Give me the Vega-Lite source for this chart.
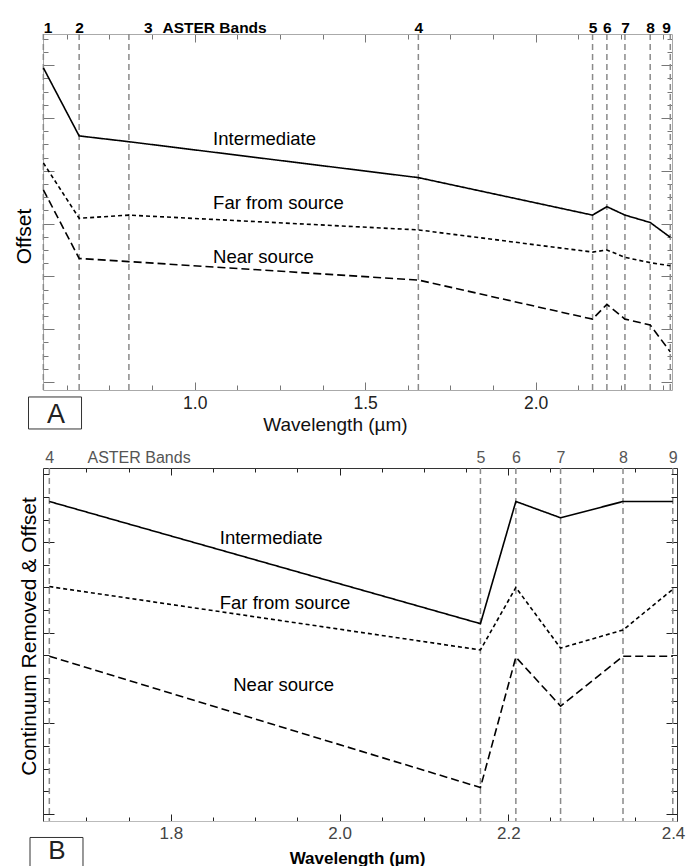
{
  "$schema": "https://vega.github.io/schema/vega-lite/v6.json",
  "padding": {"left": 13, "top": 20, "right": 5, "bottom": 0},
  "bounds": "flush",
  "spacing": 78,
  "config": {"font": "Liberation Sans", "view": {"stroke": null}, "axis": {"grid": false}},
  "datasets": {
    "top": [
      {"series": "Intermediate", "wavelength": 0.556, "value": 5.95},
      {"series": "Intermediate", "wavelength": 0.661, "value": 4.66},
      {"series": "Intermediate", "wavelength": 0.807, "value": 4.55},
      {"series": "Intermediate", "wavelength": 1.656, "value": 3.87},
      {"series": "Intermediate", "wavelength": 2.167, "value": 3.16},
      {"series": "Intermediate", "wavelength": 2.209, "value": 3.32},
      {"series": "Intermediate", "wavelength": 2.262, "value": 3.16},
      {"series": "Intermediate", "wavelength": 2.336, "value": 3.02},
      {"series": "Intermediate", "wavelength": 2.395, "value": 2.74},
      {"series": "Far from source", "wavelength": 0.556, "value": 4.15},
      {"series": "Far from source", "wavelength": 0.661, "value": 3.10},
      {"series": "Far from source", "wavelength": 0.807, "value": 3.16},
      {"series": "Far from source", "wavelength": 1.656, "value": 2.88},
      {"series": "Far from source", "wavelength": 2.167, "value": 2.46},
      {"series": "Far from source", "wavelength": 2.209, "value": 2.50},
      {"series": "Far from source", "wavelength": 2.262, "value": 2.36},
      {"series": "Far from source", "wavelength": 2.336, "value": 2.26},
      {"series": "Far from source", "wavelength": 2.395, "value": 2.20},
      {"series": "Near source", "wavelength": 0.556, "value": 3.64},
      {"series": "Near source", "wavelength": 0.661, "value": 2.34},
      {"series": "Near source", "wavelength": 0.807, "value": 2.28},
      {"series": "Near source", "wavelength": 1.656, "value": 1.93},
      {"series": "Near source", "wavelength": 2.167, "value": 1.19},
      {"series": "Near source", "wavelength": 2.209, "value": 1.47},
      {"series": "Near source", "wavelength": 2.262, "value": 1.19},
      {"series": "Near source", "wavelength": 2.336, "value": 1.08},
      {"series": "Near source", "wavelength": 2.395, "value": 0.57}
    ],
    "bottom": [
      {"series": "Intermediate", "wavelength": 1.656, "value": 3.45},
      {"series": "Intermediate", "wavelength": 2.167, "value": 2.10},
      {"series": "Intermediate", "wavelength": 2.209, "value": 3.45},
      {"series": "Intermediate", "wavelength": 2.262, "value": 3.27},
      {"series": "Intermediate", "wavelength": 2.336, "value": 3.45},
      {"series": "Intermediate", "wavelength": 2.395, "value": 3.45},
      {"series": "Far from source", "wavelength": 1.656, "value": 2.51},
      {"series": "Far from source", "wavelength": 2.167, "value": 1.81},
      {"series": "Far from source", "wavelength": 2.209, "value": 2.50},
      {"series": "Far from source", "wavelength": 2.262, "value": 1.83},
      {"series": "Far from source", "wavelength": 2.336, "value": 2.03},
      {"series": "Far from source", "wavelength": 2.395, "value": 2.48},
      {"series": "Near source", "wavelength": 1.656, "value": 1.74},
      {"series": "Near source", "wavelength": 2.167, "value": 0.29},
      {"series": "Near source", "wavelength": 2.209, "value": 1.73},
      {"series": "Near source", "wavelength": 2.262, "value": 1.19},
      {"series": "Near source", "wavelength": 2.336, "value": 1.74},
      {"series": "Near source", "wavelength": 2.395, "value": 1.74}
    ],
    "bands": [
      {"band": 1, "wavelength": 0.556},
      {"band": 2, "wavelength": 0.661},
      {"band": 3, "wavelength": 0.807},
      {"band": 4, "wavelength": 1.656},
      {"band": 5, "wavelength": 2.167},
      {"band": 6, "wavelength": 2.209},
      {"band": 7, "wavelength": 2.262},
      {"band": 8, "wavelength": 2.336},
      {"band": 9, "wavelength": 2.395}
    ],
    "toplabels": [
      {"series": "Intermediate", "wavelength": 1.054, "value": 4.49},
      {"series": "Far from source", "wavelength": 1.054, "value": 3.27},
      {"series": "Near source", "wavelength": 1.054, "value": 2.26}
    ],
    "bottomlabels": [
      {"series": "Intermediate", "wavelength": 1.858, "value": 2.98},
      {"series": "Far from source", "wavelength": 1.858, "value": 2.26},
      {"series": "Near source", "wavelength": 1.874, "value": 1.36}
    ],
    "panels": [{"panel": "A"}, {"panel": "B"}]
  },
  "vconcat": [
    {
      "width": 629,
      "height": 356,
      "resolve": {"axis": {"x": "independent", "y": "independent"}},
      "layer": [
        {
          "data": {"name": "bands"},
          "mark": {"type": "rule", "color": "#8a8a8a", "strokeWidth": 1.5, "strokeDash": [6, 4]},
          "encoding": {
            "x": {"field": "wavelength", "type": "quantitative", "scale": {"domain": [0.555, 2.4], "nice": false, "zero": false}, "axis": null}
          }
        },
        {
          "data": {"name": "top"},
          "mark": {"type": "line", "color": "#000", "strokeWidth": 1.6},
          "encoding": {
            "x": {
              "field": "wavelength", "type": "quantitative",
              "scale": {"domain": [0.555, 2.4], "nice": false, "zero": false},
              "axis": {
                "orient": "bottom",
                "values": [0.625, 0.75, 0.875, 1, 1.125, 1.25, 1.375, 1.5, 1.625, 1.75, 1.875, 2, 2.125, 2.25, 2.375],
                "labelExpr": "abs(datum.value*2 - round(datum.value*2)) < 0.001 ? format(datum.value, '.1f') : ''",
                "tickSize": {"condition": {"test": "abs(datum.value*2 - round(datum.value*2)) < 0.001", "value": -8}, "value": -5},
                "tickColor": "#777", "domainColor": "#aaa",
                "labelFontSize": 17.5, "labelColor": "#222", "labelBaseline": "alphabetic", "labelPadding": 26,
                "labelFlush": false, "labelOverlap": false,
                "title": "Wavelength (µm)", "titleFontSize": 19, "titleFontWeight": "normal", "titleColor": "#111",
                "titleBaseline": "alphabetic", "titleX": 292, "titleY": 40, "titleAlign": "center"
              }
            },
            "y": {
              "field": "value", "type": "quantitative",
              "scale": {"domain": [-0.152, 6.59], "nice": false, "zero": false},
              "axis": {
                "orient": "left",
                "values": [0, 0.25, 0.5, 0.75, 1, 1.25, 1.5, 1.75, 2, 2.25, 2.5, 2.75, 3, 3.25, 3.5, 3.75, 4, 4.25, 4.5, 4.75, 5, 5.25, 5.5, 5.75, 6, 6.25, 6.5],
                "labels": false,
                "tickSize": {"condition": {"test": "abs(datum.value - round(datum.value)) < 0.001", "value": -11}, "value": -5},
                "tickColor": "#777", "domainColor": "#aaa",
                "title": "Offset", "titleFontSize": 21, "titleFontWeight": "normal", "titleColor": "#000",
                "titleBaseline": "alphabetic", "titleX": -12.5, "titleY": 202, "titleAlign": "center", "titleAngle": -90
              }
            },
            "strokeDash": {
              "field": "series", "type": "nominal",
              "scale": {"domain": ["Intermediate", "Far from source", "Near source"], "range": [[1, 0], [4, 3], [8, 4]]},
              "legend": null
            }
          }
        },
        {
          "data": {"name": "toplabels"},
          "mark": {"type": "text", "align": "left", "baseline": "alphabetic", "fontSize": 18.5, "color": "#000"},
          "encoding": {
            "text": {"field": "series"},
            "x": {
              "field": "wavelength", "type": "quantitative",
              "scale": {"domain": [0.555, 2.4], "nice": false, "zero": false},
              "axis": {
                "orient": "top",
                "values": [0.556, 0.625, 0.661, 0.75, 0.807, 0.875, 1, 1.125, 1.25, 1.375, 1.5, 1.625, 1.656, 1.75, 1.875, 2, 2.125, 2.167, 2.209, 2.25, 2.262, 2.336, 2.375, 2.395],
                "labelExpr": "datum.value == 0.556 ? '1' : datum.value == 0.661 ? '2' : datum.value == 0.807 ? '3' : datum.value == 1.656 ? '4' : datum.value == 2.167 ? '5' : datum.value == 2.209 ? '6' : datum.value == 2.262 ? '7' : datum.value == 2.336 ? '8' : datum.value == 2.395 ? '9' : ''",
                "labelAlign": {"condition": [{"test": "datum.value == 0.556", "value": "left"}, {"test": "datum.value == 2.395", "value": "right"}], "value": "center"},
                "labelOffset": {"condition": {"test": "datum.value == 0.807", "value": 19}, "value": 0},
                "tickSize": {"condition": [{"test": "indexof([0.556, 0.661, 0.807, 1.656, 2.167, 2.209, 2.262, 2.336, 2.395], datum.value) >= 0", "value": 0}, {"test": "abs(datum.value*2 - round(datum.value*2)) < 0.001", "value": -8}], "value": -5},
                "tickColor": "#777", "domainColor": "#aaa",
                "labelFontSize": 15.5, "labelFontWeight": "bold", "labelColor": "#000", "labelBaseline": "alphabetic", "labelPadding": 2,
                "labelFlush": false, "labelOverlap": false, "labelBound": false,
                "title": "ASTER Bands", "titleFontSize": 15.5, "titleFontWeight": "bold", "titleColor": "#000",
                "titleBaseline": "alphabetic", "titleAlign": "left", "titleX": 119, "titleY": -2
              }
            },
            "y": {
              "field": "value", "type": "quantitative",
              "scale": {"domain": [-0.152, 6.59], "nice": false, "zero": false},
              "axis": {
                "orient": "right",
                "values": [0, 0.25, 0.5, 0.75, 1, 1.25, 1.5, 1.75, 2, 2.25, 2.5, 2.75, 3, 3.25, 3.5, 3.75, 4, 4.25, 4.5, 4.75, 5, 5.25, 5.5, 5.75, 6, 6.25, 6.5],
                "labels": false, "title": null,
                "tickSize": {"condition": {"test": "abs(datum.value - round(datum.value)) < 0.001", "value": -11}, "value": -5},
                "tickColor": "#777", "domainColor": "#aaa"
              }
            }
          }
        },
        {
          "data": {"name": "panels"},
          "transform": [{"filter": "datum.panel == 'A'"}],
          "mark": {"type": "rect", "fill": "transparent", "stroke": "#333", "strokeWidth": 1},
          "encoding": {
            "x": {"datum": 0.5125, "type": "quantitative", "scale": {"domain": [0.555, 2.4], "nice": false, "zero": false}, "axis": null},
            "x2": {"datum": 0.668},
            "y": {"datum": -0.284, "type": "quantitative", "scale": {"domain": [-0.152, 6.59], "nice": false, "zero": false}, "axis": null},
            "y2": {"datum": -0.89}
          }
        },
        {
          "data": {"name": "panels"},
          "transform": [{"filter": "datum.panel == 'A'"}],
          "mark": {"type": "text", "align": "center", "baseline": "alphabetic", "fontSize": 27, "color": "#222"},
          "encoding": {
            "text": {"field": "panel"},
            "x": {"datum": 0.593, "type": "quantitative", "scale": {"domain": [0.555, 2.4], "nice": false, "zero": false}, "axis": null},
            "y": {"datum": -0.777, "type": "quantitative", "scale": {"domain": [-0.152, 6.59], "nice": false, "zero": false}, "axis": null}
          }
        }
      ]
    },
    {
      "width": 634,
      "height": 353,
      "resolve": {"axis": {"x": "independent", "y": "independent"}},
      "layer": [
        {
          "data": {"name": "bands"},
          "transform": [{"filter": "datum.band >= 4"}],
          "mark": {"type": "rule", "color": "#8a8a8a", "strokeWidth": 1.5, "strokeDash": [6, 4]},
          "encoding": {
            "x": {"field": "wavelength", "type": "quantitative", "scale": {"domain": [1.6485, 2.4], "nice": false, "zero": false}, "axis": null}
          }
        },
        {
          "data": {"name": "bottom"},
          "mark": {"type": "line", "color": "#000", "strokeWidth": 1.6},
          "encoding": {
            "x": {
              "field": "wavelength", "type": "quantitative",
              "scale": {"domain": [1.6485, 2.4], "nice": false, "zero": false},
              "axis": {
                "orient": "bottom",
                "values": [1.7, 1.75, 1.8, 1.85, 1.9, 1.95, 2, 2.05, 2.1, 2.15, 2.2, 2.25, 2.3, 2.35, 2.4],
                "labelExpr": "abs(datum.value*5 - round(datum.value*5)) < 0.001 ? format(datum.value, '.1f') : ''",
                "labelOffset": {"condition": {"test": "datum.value > 2.39", "value": -4}, "value": 0},
                "tickSize": {"condition": {"test": "abs(datum.value*5 - round(datum.value*5)) < 0.001", "value": -7}, "value": -4},
                "tickColor": "#222", "domainColor": "#bbb",
                "labelFontSize": 17, "labelColor": "#444", "labelBaseline": "alphabetic", "labelPadding": 24,
                "labelFlush": false, "labelOverlap": false, "labelBound": false,
                "title": "Wavelength (µm)", "titleFontSize": 17, "titleFontWeight": "bold", "titleColor": "#000",
                "titleBaseline": "alphabetic", "titleX": 314, "titleY": 42, "titleAlign": "center"
              }
            },
            "y": {
              "field": "value", "type": "quantitative",
              "scale": {"domain": [-0.08, 3.82], "nice": false, "zero": false},
              "axis": {
                "orient": "left",
                "values": [0, 0.25, 0.5, 0.75, 1, 1.25, 1.5, 1.75, 2, 2.25, 2.5, 2.75, 3, 3.25, 3.5, 3.75],
                "labels": false,
                "tickSize": {"condition": {"test": "abs(datum.value - round(datum.value)) < 0.001", "value": -11}, "value": -6},
                "tickColor": "#222", "domainColor": "#333",
                "title": "Continuum Removed & Offset", "titleFontSize": 21, "titleFontWeight": "normal", "titleColor": "#000",
                "titleBaseline": "alphabetic", "titleX": -8, "titleY": 168, "titleAlign": "center", "titleAngle": -90
              }
            },
            "strokeDash": {
              "field": "series", "type": "nominal",
              "scale": {"domain": ["Intermediate", "Far from source", "Near source"], "range": [[1, 0], [4, 3], [8, 4]]},
              "legend": null
            }
          }
        },
        {
          "data": {"name": "bottomlabels"},
          "mark": {"type": "text", "align": "left", "baseline": "alphabetic", "fontSize": 18.5, "color": "#000"},
          "encoding": {
            "text": {"field": "series"},
            "x": {
              "field": "wavelength", "type": "quantitative",
              "scale": {"domain": [1.6485, 2.4], "nice": false, "zero": false},
              "axis": {
                "orient": "top",
                "values": [1.656, 1.7, 1.75, 1.8, 1.85, 1.9, 1.95, 2, 2.05, 2.1, 2.15, 2.167, 2.2, 2.209, 2.25, 2.262, 2.3, 2.336, 2.35, 2.395, 2.4],
                "labelExpr": "datum.value == 1.656 ? '4' : datum.value == 2.167 ? '5' : datum.value == 2.209 ? '6' : datum.value == 2.262 ? '7' : datum.value == 2.336 ? '8' : datum.value == 2.395 ? '9' : ''",
                "tickSize": {"condition": [{"test": "indexof([1.656, 2.167, 2.209, 2.262, 2.336, 2.395], datum.value) >= 0", "value": 0}, {"test": "abs(datum.value*5 - round(datum.value*5)) < 0.001", "value": -7}], "value": -4},
                "tickColor": "#222", "domainColor": "#333",
                "labelFontSize": 16, "labelColor": "#555", "labelBaseline": "alphabetic", "labelPadding": 6, "labelAlign": "center",
                "labelFlush": false, "labelOverlap": false, "labelBound": false,
                "title": "ASTER Bands", "titleFontSize": 16, "titleFontWeight": "normal", "titleColor": "#555",
                "titleBaseline": "alphabetic", "titleAlign": "left", "titleX": 44, "titleY": -6
              }
            },
            "y": {
              "field": "value", "type": "quantitative",
              "scale": {"domain": [-0.08, 3.82], "nice": false, "zero": false},
              "axis": {
                "orient": "right",
                "values": [0, 0.25, 0.5, 0.75, 1, 1.25, 1.5, 1.75, 2, 2.25, 2.5, 2.75, 3, 3.25, 3.5, 3.75],
                "labels": false, "title": null,
                "tickSize": {"condition": {"test": "abs(datum.value - round(datum.value)) < 0.001", "value": -11}, "value": -6},
                "tickColor": "#222", "domainColor": "#333"
              }
            }
          }
        },
        {
          "data": {"name": "panels"},
          "transform": [{"filter": "datum.panel == 'B'"}],
          "mark": {"type": "rect", "fill": "transparent", "stroke": "#333", "strokeWidth": 1},
          "encoding": {
            "x": {"datum": 1.6331, "type": "quantitative", "scale": {"domain": [1.6485, 2.4], "nice": false, "zero": false}, "axis": null},
            "x2": {"datum": 1.6959},
            "y": {"datum": -0.262, "type": "quantitative", "scale": {"domain": [-0.08, 3.82], "nice": false, "zero": false}, "axis": null},
            "y2": {"datum": -0.75}
          }
        },
        {
          "data": {"name": "panels"},
          "transform": [{"filter": "datum.panel == 'B'"}],
          "mark": {"type": "text", "align": "center", "baseline": "alphabetic", "fontSize": 26, "color": "#222"},
          "encoding": {
            "text": {"field": "panel"},
            "x": {"datum": 1.665, "type": "quantitative", "scale": {"domain": [1.6485, 2.4], "nice": false, "zero": false}, "axis": null},
            "y": {"datum": -0.5, "type": "quantitative", "scale": {"domain": [-0.08, 3.82], "nice": false, "zero": false}, "axis": null}
          }
        }
      ]
    }
  ]
}
